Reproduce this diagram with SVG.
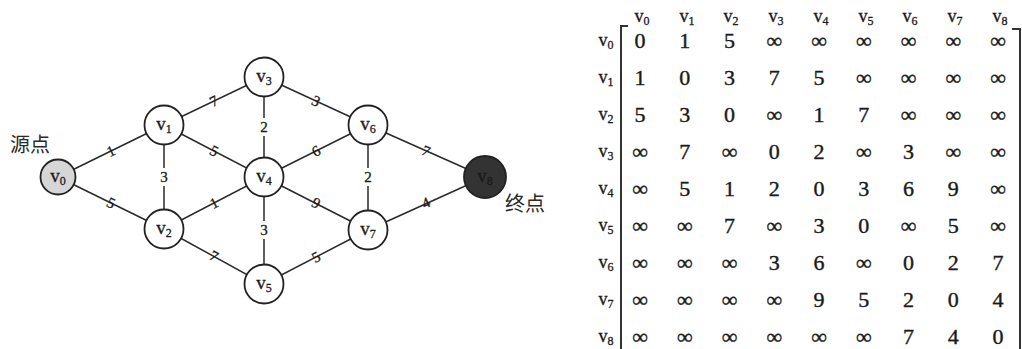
<svg xmlns="http://www.w3.org/2000/svg" width="1022" height="349" viewBox="0 0 1022 349">
<style>
.edge{stroke:#2a2a2a;stroke-width:1.5;fill:none}
.node{fill:#fff;stroke:#222;stroke-width:1.8}
.nl{font-family:"Liberation Serif",serif;font-size:19px;fill:#1a1a1a;text-anchor:middle;stroke:#1a1a1a;stroke-width:0.3}
.sub{font-size:12px}
.w{font-family:"Liberation Serif",serif;font-size:15px;fill:#1a1a1a;text-anchor:middle;dominant-baseline:central;stroke:#1a1a1a;stroke-width:0.3}
.gap{fill:#fff}
.cjk{font-family:"Noto Sans CJK SC",sans-serif;font-size:20px;fill:#2a2a2a}
.m{font-family:"Liberation Serif",serif;font-size:22px;fill:#1a1a1a;text-anchor:middle;stroke:#1a1a1a;stroke-width:0.4}
.h{font-family:"Liberation Serif",serif;font-size:18px;fill:#1a1a1a;text-anchor:middle;stroke:#1a1a1a;stroke-width:0.3}
.br{stroke:#333;stroke-width:2;fill:none}
</style>
<rect width="1022" height="349" fill="#fff"/>
<g id="connectors">
<line class="edge" x1="58" y1="177" x2="164" y2="125"/>
<line class="edge" x1="58" y1="177" x2="164" y2="229"/>
<line class="edge" x1="164" y1="125" x2="164" y2="229"/>
<line class="edge" x1="164" y1="125" x2="264" y2="77"/>
<line class="edge" x1="164" y1="125" x2="264" y2="177"/>
<line class="edge" x1="164" y1="229" x2="264" y2="177"/>
<line class="edge" x1="164" y1="229" x2="264" y2="284"/>
<line class="edge" x1="264" y1="77" x2="264" y2="177"/>
<line class="edge" x1="264" y1="177" x2="264" y2="284"/>
<line class="edge" x1="264" y1="77" x2="368" y2="125"/>
<line class="edge" x1="264" y1="177" x2="368" y2="125"/>
<line class="edge" x1="264" y1="177" x2="368" y2="230"/>
<line class="edge" x1="264" y1="284" x2="368" y2="230"/>
<line class="edge" x1="368" y1="125" x2="368" y2="230"/>
<line class="edge" x1="368" y1="125" x2="485" y2="177"/>
<line class="edge" x1="368" y1="230" x2="485" y2="177"/>
<rect class="gap" x="158" y="168" width="12" height="18"/>
<rect class="gap" x="258" y="118" width="12" height="18"/>
<rect class="gap" x="258" y="221" width="12" height="18"/>
<rect class="gap" x="362" y="168" width="12" height="18"/>
<text class="w" x="111" y="151" transform="rotate(-26 111 151)">1</text>
<text class="w" x="111" y="203" transform="rotate(26 111 203)">5</text>
<text class="w" x="164" y="177">3</text>
<text class="w" x="214" y="101" transform="rotate(-26 214 101)">7</text>
<text class="w" x="214" y="151" transform="rotate(27 214 151)">5</text>
<text class="w" x="214" y="203" transform="rotate(-27 214 203)">1</text>
<text class="w" x="214" y="256" transform="rotate(28 214 256)">7</text>
<text class="w" x="264" y="127">2</text>
<text class="w" x="264" y="230">3</text>
<text class="w" x="316" y="101" transform="rotate(25 316 101)">3</text>
<text class="w" x="316" y="151" transform="rotate(-27 316 151)">6</text>
<text class="w" x="316" y="203" transform="rotate(27 316 203)">9</text>
<text class="w" x="316" y="257" transform="rotate(-27 316 257)">5</text>
<text class="w" x="368" y="177">2</text>
<text class="w" x="426" y="151" transform="rotate(24 426 151)">7</text>
<text class="w" x="426" y="203" transform="rotate(-24 426 203)">4</text>
</g>
<g id="v0"><circle class="node" cx="58" cy="177" r="17.5" style="fill:#d6d6d6"/><text class="nl" x="58" y="182">v<tspan class="sub" dy="3">0</tspan></text></g>
<g id="v1"><circle class="node" cx="164" cy="125" r="19.5"/><text class="nl" x="164" y="130">v<tspan class="sub" dy="3">1</tspan></text></g>
<g id="v2"><circle class="node" cx="164" cy="229" r="19.5"/><text class="nl" x="164" y="234">v<tspan class="sub" dy="3">2</tspan></text></g>
<g id="v3"><circle class="node" cx="264" cy="77" r="19.5"/><text class="nl" x="264" y="82">v<tspan class="sub" dy="3">3</tspan></text></g>
<g id="v4"><circle class="node" cx="264" cy="177" r="19.5"/><text class="nl" x="264" y="182">v<tspan class="sub" dy="3">4</tspan></text></g>
<g id="v5"><circle class="node" cx="264" cy="284" r="19.5"/><text class="nl" x="264" y="289">v<tspan class="sub" dy="3">5</tspan></text></g>
<g id="v6"><circle class="node" cx="368" cy="125" r="19.5"/><text class="nl" x="368" y="130">v<tspan class="sub" dy="3">6</tspan></text></g>
<g id="v7"><circle class="node" cx="368" cy="230" r="19.5"/><text class="nl" x="368" y="235">v<tspan class="sub" dy="3">7</tspan></text></g>
<g id="v8"><circle class="node" cx="485" cy="177" r="21" style="fill:#333"/><text class="nl" x="485" y="182" style="fill:#1a1a1a">v<tspan class="sub" dy="3">8</tspan></text></g>
<g id="labels">
<text class="cjk" x="10" y="152">源点</text>
<text class="cjk" x="505" y="211">终点</text>
</g>
<g id="matrix">
<path class="br" d="M628,26 H621 V349"/>
<path class="br" d="M1012,29 H1020 V349"/>
<text class="h" x="642" y="22">v<tspan class="sub" dy="3">0</tspan></text>
<text class="h" x="687" y="22">v<tspan class="sub" dy="3">1</tspan></text>
<text class="h" x="731" y="22">v<tspan class="sub" dy="3">2</tspan></text>
<text class="h" x="776" y="22">v<tspan class="sub" dy="3">3</tspan></text>
<text class="h" x="821" y="22">v<tspan class="sub" dy="3">4</tspan></text>
<text class="h" x="866" y="22">v<tspan class="sub" dy="3">5</tspan></text>
<text class="h" x="910" y="22">v<tspan class="sub" dy="3">6</tspan></text>
<text class="h" x="955" y="22">v<tspan class="sub" dy="3">7</tspan></text>
<text class="h" x="1000" y="22">v<tspan class="sub" dy="3">8</tspan></text>
<text class="h" x="606" y="46">v<tspan class="sub" dy="3">0</tspan></text>
<text class="h" x="606" y="83">v<tspan class="sub" dy="3">1</tspan></text>
<text class="h" x="606" y="120">v<tspan class="sub" dy="3">2</tspan></text>
<text class="h" x="606" y="157">v<tspan class="sub" dy="3">3</tspan></text>
<text class="h" x="606" y="194">v<tspan class="sub" dy="3">4</tspan></text>
<text class="h" x="606" y="231">v<tspan class="sub" dy="3">5</tspan></text>
<text class="h" x="606" y="268">v<tspan class="sub" dy="3">6</tspan></text>
<text class="h" x="606" y="305">v<tspan class="sub" dy="3">7</tspan></text>
<text class="h" x="606" y="342">v<tspan class="sub" dy="3">8</tspan></text>
<text class="m" x="640 684.75 729.5 774.25 819 863.75 908.5 953.25 998" y="48">015∞∞∞∞∞∞</text>
<text class="m" x="640 684.75 729.5 774.25 819 863.75 908.5 953.25 998" y="85">10375∞∞∞∞</text>
<text class="m" x="640 684.75 729.5 774.25 819 863.75 908.5 953.25 998" y="122">530∞17∞∞∞</text>
<text class="m" x="640 684.75 729.5 774.25 819 863.75 908.5 953.25 998" y="159">∞7∞02∞3∞∞</text>
<text class="m" x="640 684.75 729.5 774.25 819 863.75 908.5 953.25 998" y="196">∞5120369∞</text>
<text class="m" x="640 684.75 729.5 774.25 819 863.75 908.5 953.25 998" y="233">∞∞7∞30∞5∞</text>
<text class="m" x="640 684.75 729.5 774.25 819 863.75 908.5 953.25 998" y="270">∞∞∞36∞027</text>
<text class="m" x="640 684.75 729.5 774.25 819 863.75 908.5 953.25 998" y="307">∞∞∞∞95204</text>
<text class="m" x="640 684.75 729.5 774.25 819 863.75 908.5 953.25 998" y="344">∞∞∞∞∞∞740</text>
</g>
</svg>
